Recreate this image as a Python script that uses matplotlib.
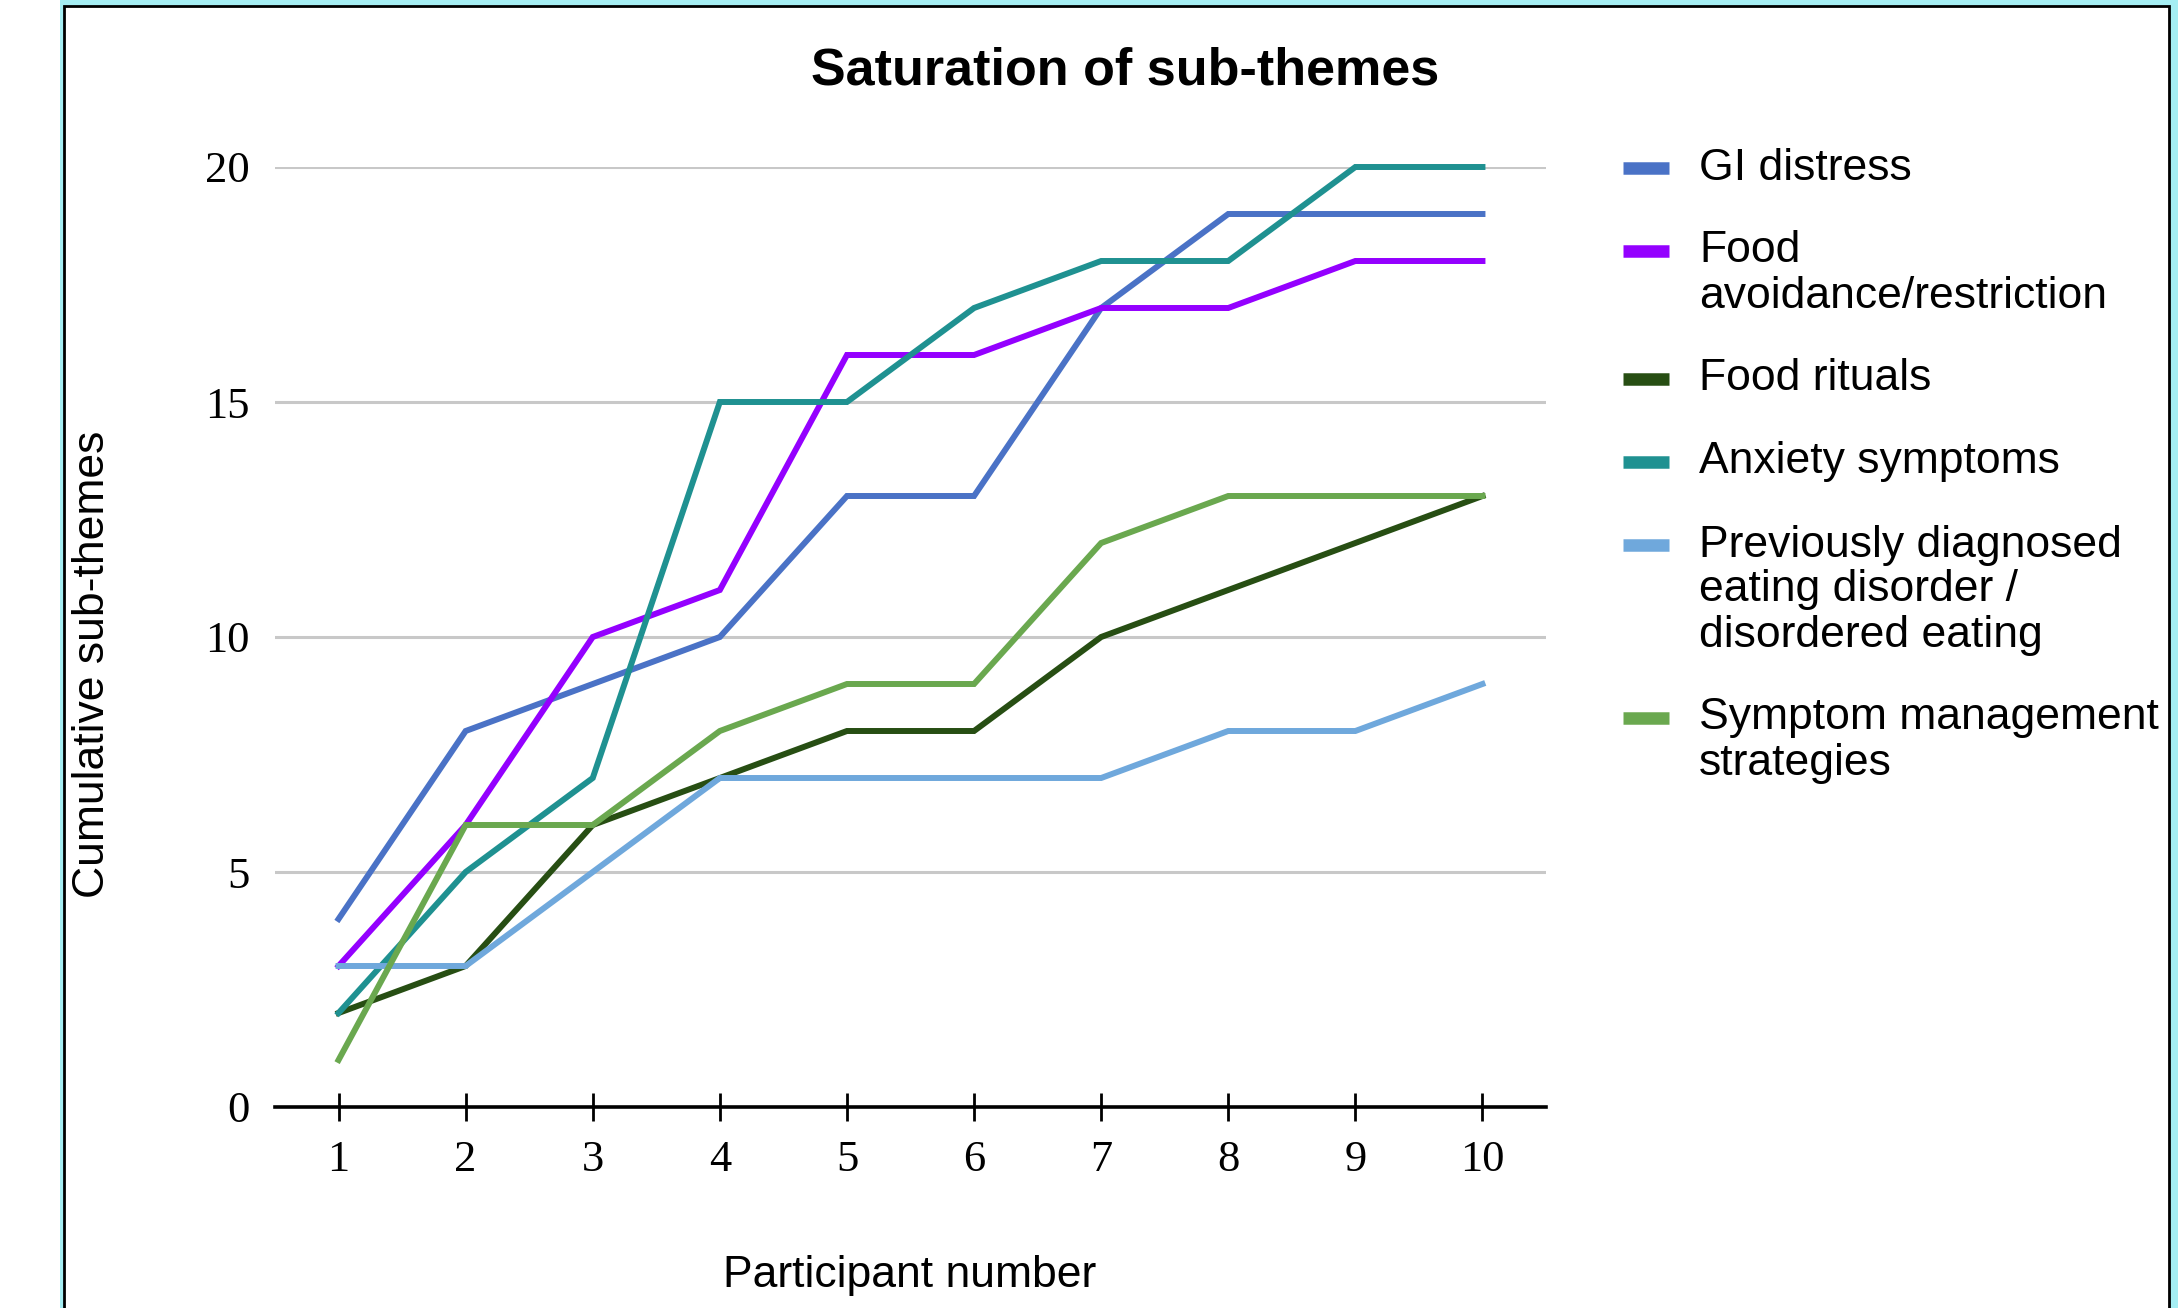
import matplotlib.pyplot as plt
from matplotlib.patches import Rectangle
from matplotlib.lines import Line2D

# cumulative sub-theme counts after each participant
participants = [1, 2, 3, 4, 5, 6, 7, 8, 9, 10]
gi_distress = [4, 8, 9, 10, 13, 13, 17, 19, 19, 19]
food_avoidance = [3, 6, 10, 11, 16, 16, 17, 17, 18, 18]
food_rituals = [2, 3, 6, 7, 8, 8, 10, 11, 12, 13]
anxiety = [2, 5, 7, 15, 15, 17, 18, 18, 20, 20]
prev_eating_disorder = [3, 3, 5, 7, 7, 7, 7, 8, 8, 9]
symptom_management = [1, 6, 6, 8, 9, 9, 12, 13, 13, 13]

labels = ["GI distress",
          "Food\navoidance/restriction",
          "Food rituals",
          "Anxiety symptoms",
          "Previously diagnosed\neating disorder /\ndisordered eating",
          "Symptom management\nstrategies"]
colors = ["#4a72c6", "#9400ff", "#274e13", "#1f9191", "#6fa8dc", "#6aa84f"]
series = [gi_distress, food_avoidance, food_rituals, anxiety,
          prev_eating_disorder, symptom_management]

W, H = 2178, 1308
fig = plt.figure(figsize=(W / 100, H / 100), dpi=100)
fig.patch.set_facecolor("white")

# cyan frame with black border around the chart area
fig.add_artist(Rectangle((60 / W, 0), 1 - 60 / W, 1, transform=fig.transFigure,
                         facecolor="#a5eef3", edgecolor="none", zorder=-3))
fig.add_artist(Rectangle((64 / W, -0.02), (2169 - 64) / W, 1.02 - 6 / H,
                         transform=fig.transFigure, facecolor="white",
                         edgecolor="black", linewidth=2, zorder=-2))

ax = fig.add_axes([275 / W, 1 - 1107 / H, (1546 - 275) / W, (1107 - 167) / H])
ax.set_facecolor("none")

for vals, c in zip(series, colors):
    ax.plot(participants, vals, color=c, linewidth=4.3, clip_on=False,
            solid_joinstyle="miter")

ax.set_xlim(0.5, 10.5)
ax.set_ylim(0, 20)
ax.set_xticks(participants)
ax.set_yticks([0, 5, 10, 15, 20])
ax.yaxis.grid(True, color="#c8c8c8", linewidth=2.2)
ax.set_axisbelow(True)
for s in ["top", "right", "left"]:
    ax.spines[s].set_visible(False)
ax.spines["bottom"].set_linewidth(2.6)
ax.spines["bottom"].set_zorder(5)
ax.tick_params(axis="y", length=0, pad=18)
ax.tick_params(axis="x", direction="inout", length=20, width=2, pad=14)
for lab in ax.get_xticklabels() + ax.get_yticklabels():
    lab.set_fontfamily("Liberation Serif")
    lab.set_fontsize(32)

sans = "Liberation Sans"
fig.text(1125 / W, 1 - 71 / H, "Saturation of sub-themes", ha="center",
         va="center", fontsize=37.5, fontweight="bold", family=sans)
fig.text(93 / W, 1 - 664 / H, "Cumulative sub-themes", rotation=90,
         ha="center", va="center", fontsize=32, family=sans)
fig.text(910 / W, 1 - 1275 / H, "Participant number", ha="center",
         va="center", fontsize=32, family=sans)

# legend: key aligned with the first line of each entry
y = 168
line_h = 45
gap = 83
for lab, c in zip(labels, colors):
    lines = lab.split("\n")
    fig.add_artist(Line2D([1623 / W, 1669 / W], [1 - y / H, 1 - y / H],
                          transform=fig.transFigure, color=c, linewidth=9,
                          solid_capstyle="butt"))
    for k, t in enumerate(lines):
        fig.text(1699 / W, 1 - (y + k * line_h) / H, t, ha="left",
                 va="center", fontsize=32, family=sans)
    y += (len(lines) - 1) * line_h + gap

fig.savefig("out.png", dpi=100)
